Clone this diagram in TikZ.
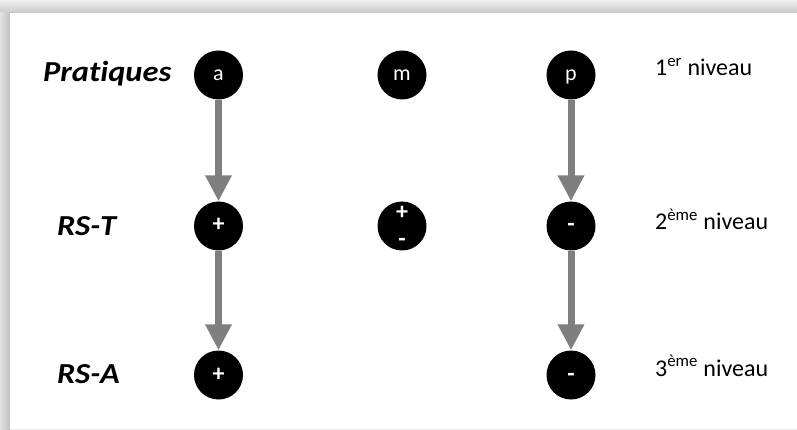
\documentclass[tikz,border=0pt]{standalone}
\usepackage{fontspec}
\setmainfont{Carlito}[Ligatures=CommonOff]
\usetikzlibrary{arrows.meta}
\definecolor{arrowgray}{HTML}{7F7F7F}
\newcommand{\widetext}[1]{\scalebox{1.12}[1]{#1}}
\tikzset{
  dot/.style={circle, fill=black, minimum size=49pt, inner sep=0pt, text=white,
    font=\fontsize{22}{26}\selectfont, text height=16.5pt, text depth=5.5pt},
  sign/.style={dot, font=\fontsize{24}{28}\selectfont\bfseries, text height=18pt, text depth=6pt},
  signtext/.style={inner sep=0pt, text=white, font=\fontsize{24}{28}\selectfont\bfseries},
  descend/.style={draw=arrowgray, line width=7pt, -{Triangle[width=25pt,length=26pt]}},
  rowname/.style={anchor=base west, inner sep=0pt, font=\fontsize{29}{32}\selectfont\bfseries\itshape},
  levelname/.style={anchor=base west, inner sep=0pt, font=\fontsize{24}{28}\selectfont},
}
\begin{document}
\begin{tikzpicture}[x=1pt, y=-1pt]
  % page and drop shadow along the top and left edges of the sheet
  \useasboundingbox (0,0) rectangle (797,430);
  \fill[white] (0,0) rectangle (797,430);
  \shade[top color=gray!12, bottom color=gray!42] (0,0) rectangle (797,13);
  \shade[left color=gray!22, right color=gray!50] (0,13) rectangle (10,430);
  \fill[white] (10,13) rectangle (797,430);
  \draw[gray!15, line width=0.8pt] (10,429) -- (797,429);

  % row labels
  \node[rowname] (lp) at (43,82) {\widetext{Pratiques}};
  \node[rowname] (lt) at (57,236) {\widetext{RS-T}};
  \node[rowname] (la) at (57,383) {\widetext{RS-A}};

  % level labels
  \node[levelname] (n1) at (655,76) {1\textsuperscript{er} niveau};
  \node[levelname] (n2) at (655,230) {2\textsuperscript{ème} niveau};
  \node[levelname] (n3) at (655,376) {3\textsuperscript{ème} niveau};

  % first level
  \node[dot] (a) at (218.5,75) {a};
  \node[dot] (m) at (402,75) {m};
  \node[dot] (p) at (571,75) {p};

  % second level
  \node[sign] (ta) at (218.5,226) {+};
  \node[dot] (tm) at (402,226) {};
  \node[signtext] (tmplus) at (402,213) {+};
  \node[signtext] (tmminus) at (402,242) {-};
  \node[sign] (tp) at (571,226) {-};

  % third level
  \node[sign] (aa) at (218.5,375) {+};
  \node[sign] (ap) at (571,375) {-};

  % transmissions between levels
  \draw[descend] (a) -- (ta);
  \draw[descend] (ta) -- (aa);
  \draw[descend] (p) -- (tp);
  \draw[descend] (tp) -- (ap);
\end{tikzpicture}
\end{document}
